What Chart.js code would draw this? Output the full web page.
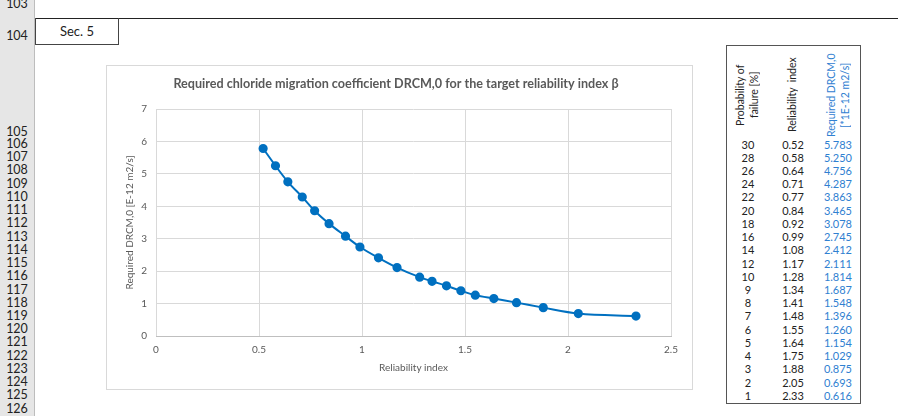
<!DOCTYPE html>
<html>
<head>
<meta charset="utf-8">
<script src="https://cdn.jsdelivr.net/npm/chart.js@4"></script>
<style>
  body { margin: 0; background: #fff; width: 898px; height: 416px; overflow: hidden; position: relative; font-family: Lato, "Noto Sans", sans-serif; }
  .abs { position: absolute; }
  #rowhead { left: 0; top: 0; width: 35px; height: 416px; background: #e6e6e6; border-right: 1px solid #bdbdbd; box-sizing: border-box; }
  .rn { position: absolute; left: 0; width: 34px; text-align: center; font-size: 12.5px; color: #222; line-height: 13px; }
  #topline { left: 35px; top: 18px; width: 863px; height: 1px; background: #222; }
  #sec { left: 35px; top: 18px; width: 84px; height: 27px; border: 1px solid #444; border-top: none; box-sizing: border-box; font-size: 13px; text-align: center; line-height: 26px; color: #222; }
  #chartbox { left: 106px; top: 65px; width: 587px; height: 325px; border: 1px solid #d9d9d9; box-sizing: border-box; }
  #tbl { left: 726px; top: 45px; width: 135px; height: 359px; border: 1.5px solid #555; box-sizing: border-box; }
  .hdr { position: absolute; writing-mode: vertical-rl; transform: rotate(180deg); text-align: center; font-size: 10.5px; line-height: 14px; color: #222; }
  .cell { position: absolute; font-size: 11px; line-height: 13px; color: #222; text-align: center; }
  .blue { color: #2f80d1; }
</style>
</head>
<body>
<div id="rowhead" class="abs"></div>
<div id="topline" class="abs"></div>
<div id="sec" class="abs">Sec. 5</div>
<div id="chartbox" class="abs"><canvas id="c" width="585" height="323"></canvas></div>
<div id="tbl" class="abs"></div>
<div class="hdr" style="left:733px;top:50px;height:90px;">Probability of<br>failure [%]</div>
<div class="hdr" style="left:785px;top:50px;height:90px;">Reliability &nbsp;index</div>
<div class="hdr blue" style="left:824px;top:50px;height:90px;">Required DRCM,0<br>[*1E-12 m2/s]</div>
<script>
// table / chart data
const probFail = [30, 28, 26, 24, 22, 20, 18, 16, 14, 12, 10, 9, 8, 7, 6, 5, 4, 3, 2, 1];
const relIndex = [0.52, 0.58, 0.64, 0.71, 0.77, 0.84, 0.92, 0.99, 1.08, 1.17, 1.28, 1.34, 1.41, 1.48, 1.55, 1.64, 1.75, 1.88, 2.05, 2.33];
const drcm = [5.783, 5.250, 4.756, 4.287, 3.863, 3.465, 3.078, 2.745, 2.412, 2.111, 1.814, 1.687, 1.548, 1.396, 1.260, 1.154, 1.029, 0.875, 0.693, 0.616];
const rowNums = [103, 104, 105, 106, 107, 108, 109, 110, 111, 112, 113, 114, 115, 116, 117, 118, 119, 120, 121, 122, 123, 124, 125, 126];

const rowH = 13.23;
// row headers
let rh = document.getElementById('rowhead');
rowNums.forEach(n => {
  let d = document.createElement('div');
  d.className = 'rn';
  d.textContent = n;
  let y;
  if (n === 103) y = -3;
  else if (n === 104) y = 29;
  else if (n === 105) y = 125;
  else y = 137 + (n - 106) * rowH;
  d.style.top = y + 'px';
  rh.appendChild(d);
});

// table values
probFail.forEach((p, i) => {
  let top = 137.5 + i * rowH;
  let a = document.createElement('div');
  a.className = 'cell'; a.style.left = '733px'; a.style.width = '30px'; a.style.top = top + 'px';
  a.textContent = p;
  let b = document.createElement('div');
  b.className = 'cell'; b.style.left = '778px'; b.style.width = '30px'; b.style.top = top + 'px';
  b.textContent = relIndex[i].toFixed(2);
  let c = document.createElement('div');
  c.className = 'cell blue'; c.style.left = '818px'; c.style.width = '34px'; c.style.textAlign = 'right'; c.style.top = top + 'px';
  c.textContent = drcm[i].toFixed(3);
  document.body.append(a, b, c);
});

let points = relIndex.map((x, i) => ({ x: x, y: drcm[i] }));
const tickColor = '#595959';
const fontFam = 'Lato, "Noto Sans", sans-serif';

new Chart(document.getElementById('c'), {
  type: 'scatter',
  data: {
    datasets: [{
      data: points,
      showLine: true,
      borderColor: '#0070C0',
      backgroundColor: '#0070C0',
      borderWidth: 2,
      pointRadius: 3.6,
      pointHoverRadius: 3.6,
      tension: 0.4,
      cubicInterpolationMode: 'monotone'
    }]
  },
  options: {
    responsive: false,
    animation: false,
    devicePixelRatio: 1,
    layout: { padding: { left: 14, right: 21, top: 0, bottom: 0 } },
    plugins: {
      legend: { display: false },
      tooltip: { enabled: false },
      title: {
        display: true,
        text: 'Required chloride migration coefficient DRCM,0 for the target reliability index β',
        color: tickColor,
        font: { family: fontFam, size: 12.6, weight: 'bold' },
        padding: { top: 10.5, bottom: 17.4 }
      }
    },
    scales: {
      x: {
        type: 'linear', min: 0, max: 2.5,
        afterFit: s => { s.height = 53; },
        ticks: { stepSize: 0.5, color: tickColor, font: { family: fontFam, size: 10 }, padding: 8, maxRotation: 0, callback: v => String(v) },
        grid: { color: '#d9d9d9', drawTicks: false },
        border: { color: '#bfbfbf' },
        title: { display: true, text: 'Reliability index', color: tickColor, font: { family: fontFam, size: 10 }, padding: { top: 0, bottom: 15 } }
      },
      y: {
        min: 0, max: 7,
        afterFit: s => { s.width = 35; },
        ticks: { stepSize: 1, color: tickColor, font: { family: fontFam, size: 10 }, padding: 9 },
        grid: { color: '#d9d9d9', drawTicks: false },
        border: { display: false },
        title: { display: true, text: 'Required DRCM,0 [E-12 m2/s]', color: tickColor, font: { family: fontFam, size: 10 }, padding: { top: 3, bottom: 0 } }
      }
    }
  }
});
</script>
</body>
</html>
